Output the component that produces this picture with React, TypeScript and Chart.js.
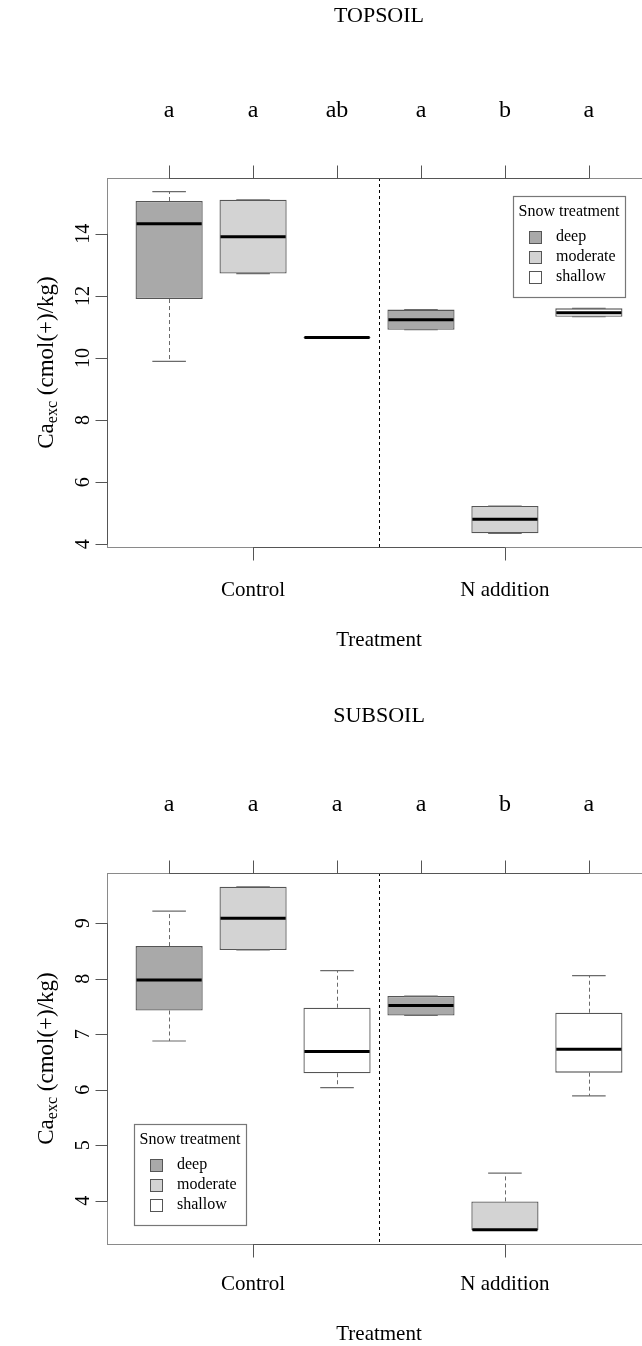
import React, { useEffect, useRef } from "react";
import { Chart, registerables } from "chart.js";

Chart.register(...registerables);

// ---------- data ----------
const positions = [1, 2, 3, 4, 5, 6];
const snowIndex = [0, 1, 2, 0, 1, 2];
const snowLabels = ["deep", "moderate", "shallow"];
const snowColors = ["#a9a9a9", "#d3d3d3", "#ffffff"];
const groupLabels = ["Control", "N addition"];
const groupPositions = [2, 5];
const xRange = [0.26, 6.74];

const topMin = [9.89, 12.72, 10.64, 10.91, 4.35, 11.33];
const topQ1 = [11.9, 12.72, 10.64, 10.91, 4.35, 11.33];
const topMedian = [14.33, 13.91, 10.66, 11.23, 4.8, 11.46];
const topQ3 = [15.06, 15.1, 10.68, 11.56, 5.23, 11.6];
const topMax = [15.36, 15.1, 10.68, 11.56, 5.23, 11.6];
const topLetters = ["a", "a", "ab", "a", "b", "a"];
const topTicks = [4, 6, 8, 10, 12, 14];

const subMin = [6.88, 8.52, 6.04, 7.34, 3.47, 5.89];
const subQ1 = [7.43, 8.52, 6.3, 7.34, 3.47, 6.31];
const subMedian = [7.98, 9.09, 6.69, 7.52, 3.48, 6.73];
const subQ3 = [8.59, 9.66, 7.48, 7.69, 3.99, 7.39];
const subMax = [9.22, 9.66, 8.15, 7.69, 4.5, 8.06];
const subLetters = ["a", "a", "a", "a", "b", "a"];
const subTicks = [4, 5, 6, 7, 8, 9];

// ---------- styles ----------
const FONT = '"Liberation Serif", "Times New Roman", "DejaVu Serif", serif';
const CANVAS_W = 660;
const CANVAS_H = 673;
const BOX_HALF = 0.4;
const CAP_HALF = 0.2;

type Panel = {
  title: string;
  min: number[];
  q1: number[];
  median: number[];
  q3: number[];
  max: number[];
  letters: string[];
  ticks: number[];
  padding: { left: number; right: number; top: number; bottom: number };
  titleY: number;
  lettersY: number;
  groupLabelY: number;
  xTitleY: number;
  legendCorner: "topright" | "bottomleft";
};

const panels: Panel[] = [
  {
    title: "TOPSOIL",
    min: topMin,
    q1: topQ1,
    median: topMedian,
    q3: topQ3,
    max: topMax,
    letters: topLetters,
    ticks: topTicks,
    padding: { left: 107, right: 9, top: 178, bottom: 126 },
    titleY: 22,
    lettersY: 117,
    groupLabelY: 596,
    xTitleY: 646,
    legendCorner: "topright",
  },
  {
    title: "SUBSOIL",
    min: subMin,
    q1: subQ1,
    median: subMedian,
    q3: subQ3,
    max: subMax,
    letters: subLetters,
    ticks: subTicks,
    padding: { left: 107, right: 9, top: 200, bottom: 102 },
    titleY: 49,
    lettersY: 138,
    groupLabelY: 617,
    xTitleY: 667,
    legendCorner: "bottomleft",
  },
];

function yLimits(p: Panel) {
  const lo = Math.min(...p.min);
  const hi = Math.max(...p.max);
  const ext = (hi - lo) * 0.04;
  return [lo - ext, hi + ext];
}

function line(ctx: CanvasRenderingContext2D, x1: number, y1: number, x2: number, y2: number) {
  ctx.beginPath();
  ctx.moveTo(x1, y1);
  ctx.lineTo(x2, y2);
  ctx.stroke();
}

function makePlugin(p: Panel) {
  return {
    id: "rboxplot",
    afterDatasetsDraw(chart: any) {
      const ctx: CanvasRenderingContext2D = chart.ctx;
      const xs = chart.scales.x;
      const ys = chart.scales.y;
      const ca = chart.chartArea;
      const X = (v: number) => xs.getPixelForValue(v);
      const Y = (v: number) => ys.getPixelForValue(v);
      ctx.save();

      // whiskers, staples, medians
      positions.forEach((pos, i) => {
        const cx = Math.round(X(pos)) + 0.5;
        ctx.strokeStyle = "#6a6a6a";
        ctx.lineWidth = 1;
        ctx.setLineDash([4, 3]);
        if (p.max[i] > p.q3[i]) line(ctx, cx, Y(p.q3[i]), cx, Y(p.max[i]));
        if (p.min[i] < p.q1[i]) line(ctx, cx, Y(p.q1[i]), cx, Y(p.min[i]));
        ctx.setLineDash([]);
        ctx.lineWidth = 1.2;
        line(ctx, X(pos - CAP_HALF), Y(p.max[i]), X(pos + CAP_HALF), Y(p.max[i]));
        line(ctx, X(pos - CAP_HALF), Y(p.min[i]), X(pos + CAP_HALF), Y(p.min[i]));
        ctx.strokeStyle = "#000";
        ctx.lineWidth = 3;
        line(ctx, X(pos - BOX_HALF) + 1, Y(p.median[i]), X(pos + BOX_HALF) - 1, Y(p.median[i]));
      });

      // separator
      ctx.strokeStyle = "#000";
      ctx.lineWidth = 1;
      ctx.setLineDash([3, 3]);
      const sx = Math.round(X((positions[2] + positions[3]) / 2)) + 0.5;
      line(ctx, sx, ca.top, sx, ca.bottom);
      ctx.setLineDash([]);

      // frame
      ctx.strokeStyle = "#8a8a8a";
      ctx.lineWidth = 1;
      ctx.strokeRect(Math.round(ca.left) + 0.5, Math.round(ca.top) + 0.5, ca.right - ca.left, ca.bottom - ca.top);

      // axes
      ctx.strokeStyle = "#555";
      ctx.lineWidth = 1;
      const L = Math.round(ca.left) + 0.5;
      const T = Math.round(ca.top) + 0.5;
      const B = Math.round(ca.bottom) + 0.5;
      line(ctx, L, Y(p.ticks[0]), L, Y(p.ticks[p.ticks.length - 1]));
      p.ticks.forEach((t) => {
        const ty = Math.round(Y(t)) + 0.5;
        line(ctx, L - 12, ty, L, ty);
      });
      line(ctx, X(positions[0]), T, X(positions[positions.length - 1]), T);
      positions.forEach((pos) => {
        const tx = Math.round(X(pos)) + 0.5;
        line(ctx, tx, T - 13, tx, T);
      });
      line(ctx, X(groupPositions[0]), B, X(groupPositions[1]), B);
      groupPositions.forEach((pos) => {
        const tx = Math.round(X(pos)) + 0.5;
        line(ctx, tx, B, tx, B + 13);
      });

      // text
      ctx.fillStyle = "#000";
      ctx.textAlign = "center";
      ctx.textBaseline = "alphabetic";
      const midX = (ca.left + ca.right) / 2;
      const midY = (ca.top + ca.bottom) / 2;

      ctx.font = `22px ${FONT}`;
      ctx.fillText(p.title, midX, p.titleY);

      ctx.font = `24px ${FONT}`;
      positions.forEach((pos, i) => ctx.fillText(p.letters[i], X(pos), p.lettersY));

      ctx.font = `21px ${FONT}`;
      groupPositions.forEach((pos, i) => ctx.fillText(groupLabels[i], X(pos), p.groupLabelY));
      ctx.fillText("Treatment", midX, p.xTitleY);

      ctx.font = `20px ${FONT}`;
      p.ticks.forEach((t) => {
        ctx.save();
        ctx.translate(89, Y(t));
        ctx.rotate(-Math.PI / 2);
        ctx.fillText(String(t), 0, 0);
        ctx.restore();
      });

      ctx.save();
      ctx.translate(53, midY);
      ctx.rotate(-Math.PI / 2);
      const big = `23px ${FONT}`;
      const small = `16px ${FONT}`;
      const parts = [
        { t: "Ca", f: big, dy: 0 },
        { t: "exc", f: small, dy: 4 },
        { t: " (cmol(+)/kg)", f: big, dy: 0 },
      ];
      let total = 0;
      parts.forEach((pt) => {
        ctx.font = pt.f;
        total += ctx.measureText(pt.t).width;
      });
      let cur = -total / 2;
      ctx.textAlign = "left";
      parts.forEach((pt) => {
        ctx.font = pt.f;
        ctx.fillText(pt.t, cur, pt.dy);
        cur += ctx.measureText(pt.t).width;
      });
      ctx.restore();

      // legend
      const lw = 112;
      const lh = 101;
      const lx = p.legendCorner === "topright" ? ca.right - 26 - lw : ca.left + 27;
      const ly = p.legendCorner === "topright" ? ca.top + 18 : ca.bottom - 19 - lh;
      ctx.fillStyle = "#fff";
      ctx.fillRect(lx, ly, lw, lh);
      ctx.strokeStyle = "#777";
      ctx.lineWidth = 1.2;
      ctx.strokeRect(Math.round(lx) + 0.5, Math.round(ly) + 0.5, lw, lh);
      ctx.fillStyle = "#000";
      ctx.textAlign = "center";
      ctx.textBaseline = "middle";
      ctx.font = `16px ${FONT}`;
      ctx.fillText("Snow treatment", lx + lw / 2, ly + 16);
      snowLabels.forEach((lab, k) => {
        const ry = ly + 41 + k * 20;
        ctx.fillStyle = snowColors[k];
        ctx.fillRect(lx + 16, ry - 6, 12, 12);
        ctx.strokeStyle = "#555";
        ctx.lineWidth = 1;
        ctx.strokeRect(Math.round(lx + 16) + 0.5, Math.round(ry - 6) + 0.5, 12, 12);
        ctx.fillStyle = "#000";
        ctx.textAlign = "left";
        ctx.fillText(lab, lx + 43, ry);
      });
      ctx.restore();
    },
  };
}

function BoxPanel({ panel }: { panel: Panel }) {
  const ref = useRef<HTMLCanvasElement | null>(null);
  useEffect(() => {
    if (!ref.current) return;
    const [ymin, ymax] = yLimits(panel);
    const chart = new Chart(ref.current, {
      type: "bar",
      data: {
        datasets: [
          {
            data: positions.map((x, i) => ({ x, y: [panel.q1[i], panel.q3[i]] })) as any,
            backgroundColor: positions.map((_, i) => snowColors[snowIndex[i]]),
            borderColor: "#555555",
            borderWidth: 1.3,
            borderSkipped: false,
            barPercentage: 0.8,
            categoryPercentage: 1,
          } as any,
        ],
      },
      options: {
        responsive: false,
        animation: false,
        devicePixelRatio: 1,
        layout: { padding: panel.padding },
        plugins: { legend: { display: false }, tooltip: { enabled: false } },
        scales: {
          x: {
            type: "linear",
            min: xRange[0],
            max: xRange[1],
            offset: false,
            display: false,
            afterBuildTicks: (scale: any) => {
              scale.ticks = positions.map((v) => ({ value: v }));
            },
          },
          y: { type: "linear", min: ymin, max: ymax, display: false },
        },
      },
      plugins: [makePlugin(panel)],
    });
    return () => chart.destroy();
  }, [panel]);
  return (
    <canvas
      ref={ref}
      width={CANVAS_W}
      height={CANVAS_H}
      style={{ display: "block", width: CANVAS_W, height: CANVAS_H }}
    />
  );
}

export default function App() {
  return (
    <div
      style={{
        position: "absolute",
        left: 0,
        top: 0,
        width: 642,
        height: 1346,
        overflow: "hidden",
        background: "#fff",
      }}
    >
      {panels.map((p) => (
        <BoxPanel key={p.title} panel={p} />
      ))}
    </div>
  );
}
